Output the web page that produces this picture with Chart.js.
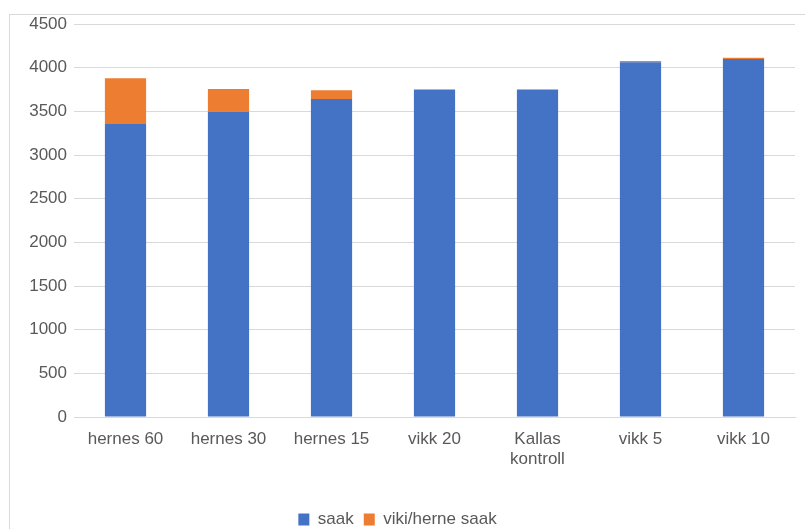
<!DOCTYPE html>
<html>
<head>
<meta charset="utf-8">
<script src="https://cdn.jsdelivr.net/npm/chart.js@4/dist/chart.umd.min.js"></script>
<style>
  body { margin: 0; background: #fff; }
  #frame { position: absolute; left: 9px; top: 14px; width: 900px; height: 600px; border: 1px solid #d9d9d9; }
  #wrap { position: absolute; left: 0; top: 0; width: 805px; height: 529px; }
</style>
</head>
<body>
<div id="frame"></div>
<div id="wrap"><canvas id="chart" width="805" height="529"></canvas></div>
<script>
// kategooriad ja väärtused
const labels = ["hernes 60", "hernes 30", "hernes 15", "vikk 20", ["Kallas", "kontroll"], "vikk 5", "vikk 10"];
const saak = [3355, 3495, 3640, 3750, 3750, 4062, 4100];
const vikiHerneSaak = [525, 260, 100, 0, 0, 15, 14];
const yTicks = [0, 500, 1000, 1500, 2000, 2500, 3000, 3500, 4000, 4500];

const font = { family: "'Liberation Sans', Arial, sans-serif", size: 17 };

const data = {
  labels: labels,
  datasets: [
    { label: "saak", data: saak, backgroundColor: "#4472C4" },
    { label: "viki/herne saak", data: vikiHerneSaak, backgroundColor: "#ED7D31" }
  ]
};

const config = {
  type: "bar",
  data: data,
  options: {
    responsive: false,
    animation: false,
    devicePixelRatio: 1,
    barPercentage: 0.4,
    categoryPercentage: 1.0,
    layout: { padding: { top: 24, right: 10, left: 0, bottom: -9 } },
    plugins: {
      legend: {
        position: "bottom",
        labels: { font: font, color: "#595959", boxWidth: 11, boxHeight: 12, padding: 10 }
      },
      tooltip: { enabled: false }
    },
    scales: {
      x: {
        stacked: true,
        grid: { display: false, drawTicks: false },
        border: { color: "#d9d9d9", width: 1 },
        ticks: { font: font, color: "#595959", maxRotation: 0, autoSkip: false, padding: 12 },
        afterFit: function (scale) { scale.height = 84; }
      },
      y: {
        stacked: true,
        min: 0,
        max: 4500,
        afterBuildTicks: function (scale) { scale.ticks = yTicks.map(v => ({ value: v })); },
        grid: { color: "#d9d9d9", drawTicks: false },
        border: { display: false },
        ticks: { font: font, color: "#595959", padding: 7, callback: v => String(v) },
        afterFit: function (scale) { scale.width = 74; }
      }
    }
  }
};

new Chart(document.getElementById("chart"), config);
</script>
</body>
</html>
